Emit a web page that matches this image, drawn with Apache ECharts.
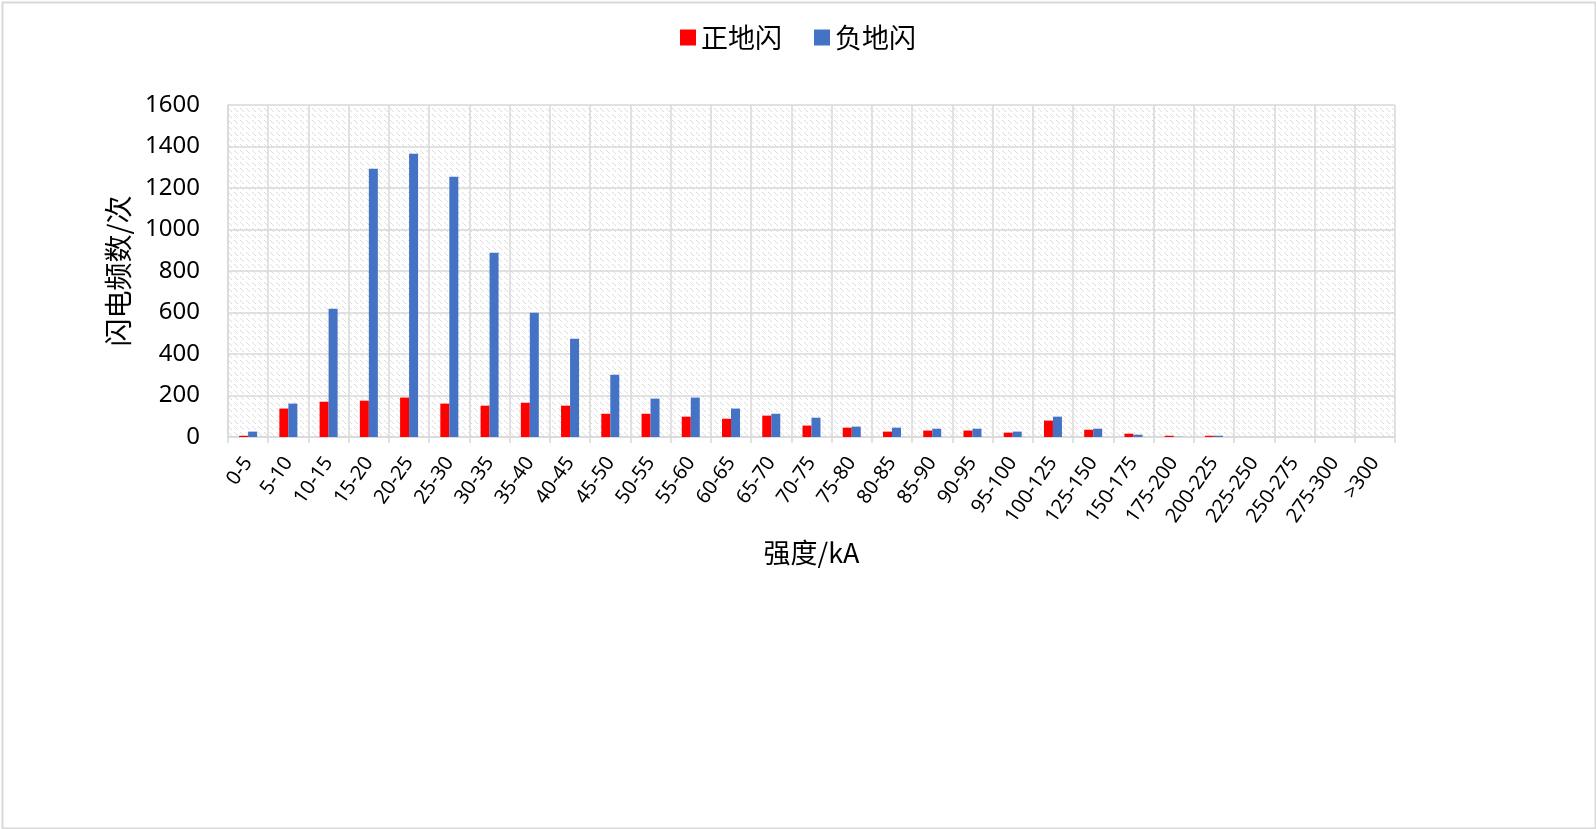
<!DOCTYPE html>
<html>
<head>
<meta charset="utf-8">
<script src="https://cdn.jsdelivr.net/npm/echarts@6/dist/echarts.min.js"></script>
<style>
html,body{margin:0;padding:0;background:#fff;}
#chart{width:1596px;height:829px;}
</style>
</head>
<body>
<div id="chart"></div>
<script>
const categories = ['0-5','5-10','10-15','15-20','20-25','25-30','30-35','35-40','40-45','45-50','50-55','55-60','60-65','65-70','70-75','75-80','80-85','85-90','90-95','95-100','100-125','125-150','150-175','175-200','200-225','225-250','250-275','275-300','>300'];
const positiveFlash = [6,137,170,175,190,161,151,165,151,112,112,98,88,103,55,45,26,31,31,21,79,35,16,6,6,0,0,0,0];
const negativeFlash = [26,161,618,1293,1365,1254,888,599,474,300,185,190,137,112,93,50,45,40,40,26,98,40,11,1,6,0,0,0,0];
const seriesNames = ['正地闪','负地闪'];
const yTicks = {min:0, max:1600, interval:200};

// hatch pattern for the plot background
const tile = document.createElement('canvas');
tile.width = 6; tile.height = 6;
const tctx = tile.getContext('2d');
tctx.fillStyle = '#ffffff';
tctx.fillRect(0,0,6,6);
tctx.fillStyle = '#dcdcdc';
for (let i = 0; i < 4; i++) tctx.fillRect(i, i, 1, 1);

const chart = echarts.init(document.getElementById('chart'));
const gridColor = '#d9d9d9';
const font = '"Noto Sans", "Noto Sans CJK SC", sans-serif';
const cjk = '"Noto Sans CJK SC", sans-serif';
chart.setOption({
  backgroundColor: '#ffffff',
  animation: false,
  textStyle: {fontFamily: font, color: '#000'},
  graphic: [{
    type: 'rect', left: 0, top: 0, silent: true,
    shape: {x: 1, y: 1, width: 1593, height: 826},
    style: {fill: 'none', stroke: '#d9d9d9', lineWidth: 2}
  }],
  legend: {
    top: 19, left: 'center',
    itemWidth: 16, itemHeight: 16, itemGap: 32,
    icon: 'rect',
    textStyle: {fontSize: 27, fontFamily: cjk, color: '#000'},
    data: seriesNames
  },
  grid: {
    left: 228, right: 201, top: 105, bottom: 392,
    show: true,
    borderWidth: 0,
    backgroundColor: {image: tile, repeat: 'repeat'}
  },
  xAxis: {
    type: 'category',
    data: categories,
    name: '强度/kA',
    nameLocation: 'middle',
    nameGap: 102,
    nameTextStyle: {fontSize: 27, fontFamily: cjk, color: '#000'},
    axisLine: {show: true, lineStyle: {color: gridColor, width: 1.5}},
    axisTick: {show: true, length: 6, interval: 0, lineStyle: {color: gridColor, width: 1.5}},
    splitLine: {show: true, interval: 0, lineStyle: {color: gridColor, width: 1.5}},
    axisLabel: {interval: 0, rotate: 55, fontSize: 20, color: '#000', margin: 22, fontFamily: font}
  },
  yAxis: {
    type: 'value',
    min: yTicks.min, max: yTicks.max, interval: yTicks.interval,
    name: '闪电频数/次',
    nameLocation: 'middle',
    nameGap: 96,
    nameRotate: 90,
    nameTextStyle: {fontSize: 28, fontFamily: cjk, color: '#000'},
    axisLine: {show: true, lineStyle: {color: gridColor, width: 1.5}},
    axisTick: {show: false},
    splitLine: {show: true, lineStyle: {color: gridColor, width: 1.5}},
    axisLabel: {fontSize: 24, color: '#000', margin: 28, fontFamily: font, formatter: v => String(v)}
  },
  series: [
    {name: seriesNames[0], type: 'bar', data: positiveFlash, barWidth: 9, barGap: '0%', itemStyle: {color: '#ff0000'}},
    {name: seriesNames[1], type: 'bar', data: negativeFlash, barWidth: 9, barGap: '0%', itemStyle: {color: '#4472c4'}}
  ]
});
</script>
</body>
</html>
